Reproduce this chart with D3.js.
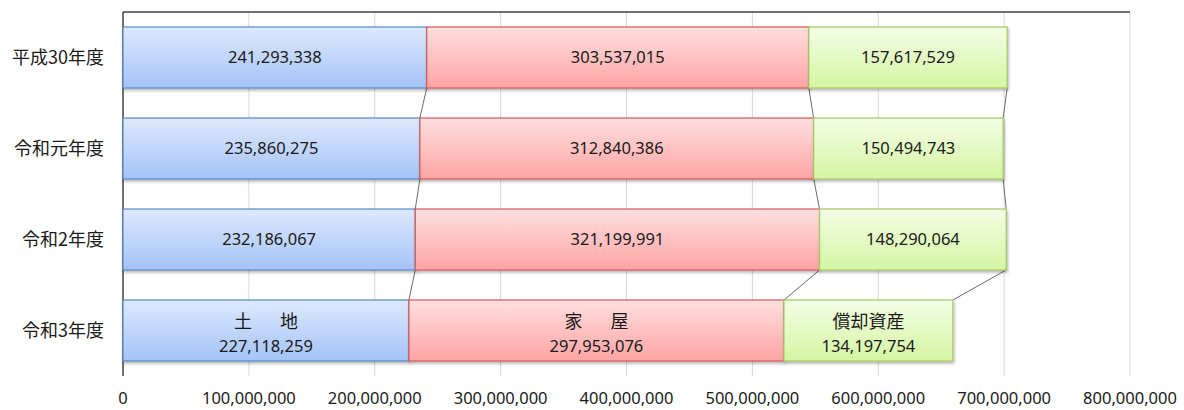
<!DOCTYPE html>
<html>
<head>
<meta charset="utf-8">
<script src="https://cdn.jsdelivr.net/npm/d3@7"></script>
<style>
  body { margin: 0; background: #fff; }
  svg { display: block; }
  text { fill: #1a1a1a; }
  .num { font-family: "Noto Sans", "Open Sans", sans-serif; font-size: 16.5px; }
  .jp { font-family: "Noto Sans CJK JP", sans-serif; font-size: 18px; }
</style>
</head>
<body>
<svg id="chart"></svg>
<script>
// categories (top to bottom)
const years = ['平成30年度', '令和元年度', '令和2年度', '令和3年度'];
// series
const seriesNames = ['土　地', '家　屋', '償却資産'];
const land = [241293338, 235860275, 232186067, 227118259];
const house = [303537015, 312840386, 321199991, 297953076];
const depreciable = [157617529, 150494743, 148290064, 134197754];
const xTicks = [0, 100000000, 200000000, 300000000, 400000000, 500000000, 600000000, 700000000, 800000000];

const width = 1184, height = 410;
const margin = { top: 12, right: 54, bottom: 34, left: 123 };

const svg = d3.select('#chart').attr('width', width).attr('height', height);

const x = d3.scaleLinear().domain([0, 800000000]).range([margin.left, width - margin.right]);
const y = d3.scaleBand().domain(years)
    .range([margin.top, height - margin.bottom])
    .paddingInner(0.33).paddingOuter(0.165);

const colors = [
    { top: '#dee9fd', bottom: '#a4c3f8', stroke: '#5a89cc' },
    { top: '#ffdfdf', bottom: '#ffa4a4', stroke: '#d35b58' },
    { top: '#f3fde6', bottom: '#d5f6a2', stroke: '#a3c963' }
];

const defs = svg.append('defs');
colors.forEach((c, i) => {
    const g = defs.append('linearGradient').attr('id', 'grad' + i)
        .attr('x1', 0).attr('y1', 0).attr('x2', 0).attr('y2', 1);
    g.append('stop').attr('offset', '0%').attr('stop-color', c.top);
    g.append('stop').attr('offset', '100%').attr('stop-color', c.bottom);
});
defs.append('filter').attr('id', 'shadow')
    .attr('x', '-5%').attr('y', '-10%').attr('width', '110%').attr('height', '130%')
  .append('feDropShadow')
    .attr('dx', 1).attr('dy', 2).attr('stdDeviation', 1.5)
    .attr('flood-color', '#000').attr('flood-opacity', 0.3);

// gridlines
svg.append('g').selectAll('line').data(xTicks.slice(1)).join('line')
    .attr('x1', d => x(d)).attr('x2', d => x(d))
    .attr('y1', margin.top).attr('y2', height - margin.bottom)
    .attr('stroke', '#d9d9d9').attr('stroke-width', 1);

// axis lines
svg.append('line')
    .attr('x1', x(0)).attr('x2', x(800000000))
    .attr('y1', margin.top).attr('y2', margin.top)
    .attr('stroke', '#404040').attr('stroke-width', 1.5);
svg.append('line')
    .attr('x1', x(0)).attr('x2', x(0))
    .attr('y1', margin.top).attr('y2', height - margin.bottom)
    .attr('stroke', '#404040').attr('stroke-width', 1.5);

// x tick labels
const fmt = d3.format(',');
svg.append('g').selectAll('text').data(xTicks).join('text')
    .attr('class', 'num')
    .attr('x', d => x(d)).attr('y', 404)
    .attr('text-anchor', 'middle')
    .text(d => fmt(d));

// category labels
svg.append('g').selectAll('text').data(years).join('text')
    .attr('class', 'jp')
    .attr('x', 104).attr('y', d => y(d) + y.bandwidth() / 2)
    .attr('dy', '0.35em')
    .attr('text-anchor', 'end')
    .text(d => d);

// stacked rows
const series = [land, house, depreciable];
const rows = years.map((yr, i) => {
    let acc = 0;
    return series.map((s, k) => {
        const seg = { year: yr, k: k, idx: i, x0: acc, x1: acc + s[i], value: s[i] };
        acc += s[i];
        return seg;
    });
});

// connector lines between rows
const conn = [];
for (let i = 0; i < rows.length - 1; i++) {
    rows[i].forEach((seg, k) => {
        conn.push({ a: seg.x1, b: rows[i + 1][k].x1, yA: years[i], yB: years[i + 1] });
    });
}
svg.append('g').selectAll('line').data(conn).join('line')
    .attr('x1', d => x(d.a)).attr('y1', d => y(d.yA) + y.bandwidth())
    .attr('x2', d => x(d.b)).attr('y2', d => y(d.yB))
    .attr('stroke', '#6b6b6b').attr('stroke-width', 1);

const segs = rows.flat();
svg.append('g').selectAll('rect').data(segs).join('rect')
    .attr('x', d => x(d.x0))
    .attr('y', d => y(d.year))
    .attr('width', d => x(d.x1) - x(d.x0))
    .attr('height', y.bandwidth())
    .attr('fill', d => `url(#grad${d.k})`)
    .attr('stroke', d => colors[d.k].stroke)
    .attr('stroke-width', 1.2)
    .attr('filter', 'url(#shadow)');

// value labels
const last = years.length - 1;
const lbl = svg.append('g');
segs.forEach(d => {
    const cx = (x(d.x0) + x(d.x1)) / 2;
    const cy = y(d.year) + y.bandwidth() / 2;
    if (d.idx === last) {
        const name = seriesNames[d.k];
        const spaced = name.includes('　');
        lbl.append('text').attr('class', 'jp')
            .attr('x', cx + (spaced ? 2.5 : 0)).attr('y', cy - 9).attr('dy', '0.35em')
            .attr('text-anchor', 'middle')
            .style('letter-spacing', spaced ? '5px' : null)
            .text(name);
        lbl.append('text').attr('class', 'num')
            .attr('x', cx).attr('y', cy + 16).attr('dy', '0.35em')
            .attr('text-anchor', 'middle')
            .text(fmt(d.value));
    } else {
        lbl.append('text').attr('class', 'num')
            .attr('x', cx).attr('y', cy).attr('dy', '0.35em')
            .attr('text-anchor', 'middle')
            .text(fmt(d.value));
    }
});
</script>
</body>
</html>
